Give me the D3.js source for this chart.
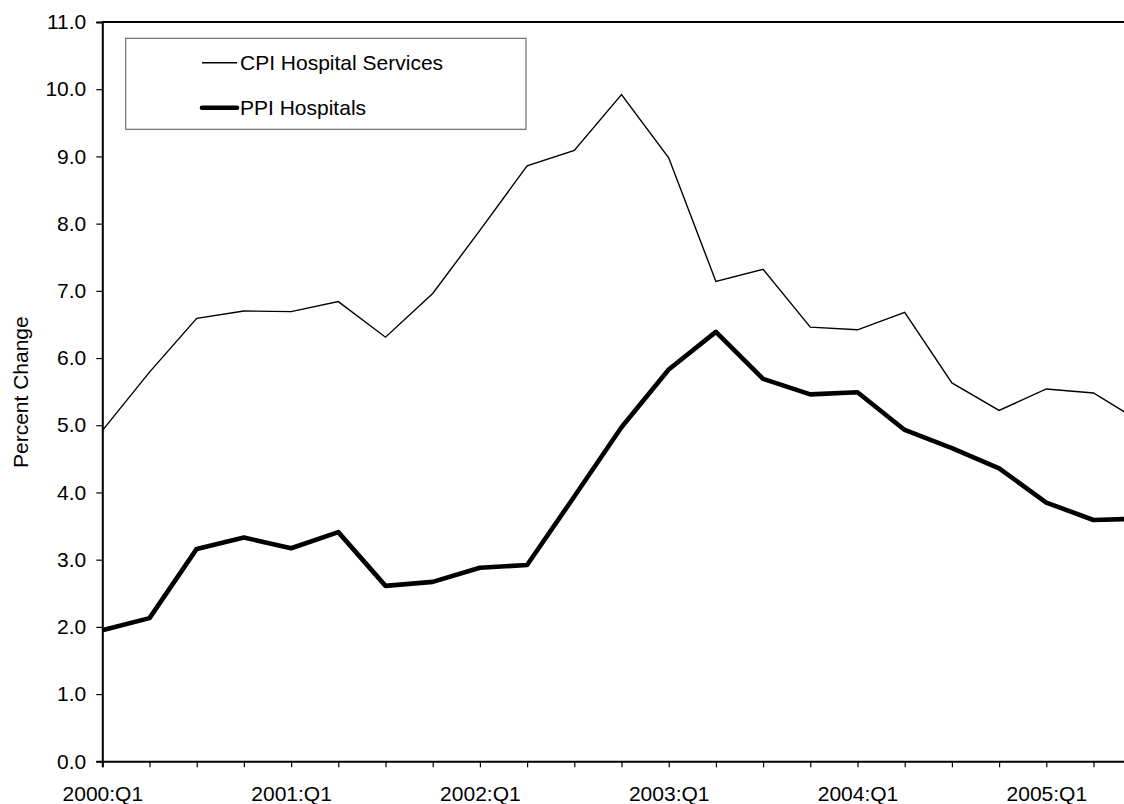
<!DOCTYPE html>
<html>
<head>
<meta charset="utf-8">
<script src="https://cdn.jsdelivr.net/npm/d3@7"></script>
<style>
  html, body { margin: 0; padding: 0; background: #fff; }
  svg { display: block; }
  text { font-family: "Liberation Sans", Arial, sans-serif; fill: #000; }
</style>
</head>
<body>
<svg id="chart" width="1124" height="804"></svg>
<script>
const quarters = ["2000:Q1","2000:Q2","2000:Q3","2000:Q4",
                  "2001:Q1","2001:Q2","2001:Q3","2001:Q4",
                  "2002:Q1","2002:Q2","2002:Q3","2002:Q4",
                  "2003:Q1","2003:Q2","2003:Q3","2003:Q4",
                  "2004:Q1","2004:Q2","2004:Q3","2004:Q4",
                  "2005:Q1","2005:Q2","2005:Q3"];
const cpiHospitalServices = [4.92, 5.79, 6.59, 6.70, 6.69, 6.84, 6.31, 6.96, 7.90, 8.86, 9.09, 9.92,
                             8.98, 7.14, 7.32, 6.46, 6.42, 6.68, 5.63, 5.22, 5.54, 5.48, 5.05];
const ppiHospitals = [1.95, 2.13, 3.16, 3.33, 3.17, 3.41, 2.61, 2.67, 2.88, 2.92, 3.94, 4.97,
                      5.83, 6.39, 5.69, 5.46, 5.49, 4.93, 4.66, 4.36, 3.85, 3.59, 3.61];
const yTicks = [0,1,2,3,4,5,6,7,8,9,10,11];
const labeledQuarters = ["2000:Q1","2001:Q1","2002:Q1","2003:Q1","2004:Q1","2005:Q1"];
const seriesNames = ["CPI Hospital Services", "PPI Hospitals"];

(function () {
const svg = d3.select("#chart");
const mLeft = 102.3, mBottom = 761.3, mTop = 22;
const step = 47.2;

const x = d3.scaleLinear().domain([0, quarters.length - 1])
  .range([mLeft, mLeft + step * (quarters.length - 1)]);
const y = d3.scaleLinear().domain([0, 11]).range([mBottom, mTop]);

// top border
svg.append("line").attr("x1", mLeft).attr("x2", 1124).attr("y1", mTop).attr("y2", mTop)
  .attr("stroke", "#000").attr("stroke-width", 2);

// y axis
const yAxis = svg.append("g").attr("transform", `translate(${mLeft},0)`)
  .call(d3.axisLeft(y).tickValues(yTicks).tickFormat(d3.format(".1f")).tickSize(6).tickPadding(10));
yAxis.select(".domain").attr("stroke", "#000").attr("stroke-width", 2);
yAxis.selectAll(".tick line").attr("stroke", "#000").attr("stroke-width", 1.2);
yAxis.selectAll(".tick text").style("font-size", "21px").attr("fill", "#000")
  .attr("font-family", "Liberation Sans, Arial, sans-serif");

// x axis
const xAxis = svg.append("g").attr("transform", `translate(0,${mBottom})`)
  .call(d3.axisBottom(x).tickValues(d3.range(quarters.length)).tickSize(6)
    .tickFormat(i => labeledQuarters.includes(quarters[i]) ? quarters[i] : ""));
xAxis.select(".domain").attr("stroke", "#000").attr("stroke-width", 2);
xAxis.selectAll(".tick line").attr("stroke", "#000").attr("stroke-width", 1.2);
xAxis.selectAll(".tick text").style("font-size", "21px").attr("fill", "#000")
  .attr("font-family", "Liberation Sans, Arial, sans-serif")
  .attr("dy", 0).attr("y", 39.5);

// y title
svg.append("text").attr("transform", `translate(28,${(mTop + mBottom) / 2 + 0.5}) rotate(-90)`)
  .attr("text-anchor", "middle").style("font-size", "21px").text("Percent Change");

// lines
const line = d3.line().x((d, i) => x(i)).y(d => y(d));
svg.append("path").datum(cpiHospitalServices).attr("d", line)
  .attr("fill", "none").attr("stroke", "#000").attr("stroke-width", 1.4).attr("stroke-linejoin", "miter");
svg.append("path").datum(ppiHospitals).attr("d", line)
  .attr("fill", "none").attr("stroke", "#000").attr("stroke-width", 4.6).attr("stroke-linejoin", "round");

// legend
const lg = svg.append("g");
lg.append("rect").attr("x", 125.7).attr("y", 38.3).attr("width", 400.3).attr("height", 91)
  .attr("fill", "#fff").attr("stroke", "#6e6e6e").attr("stroke-width", 1.2);
const legendRows = [{name: seriesNames[0], w: 1.4, cy: 62.7}, {name: seriesNames[1], w: 4.6, cy: 107.7}];
legendRows.forEach(r => {
  lg.append("line").attr("x1", 202).attr("x2", 237).attr("y1", r.cy).attr("y2", r.cy)
    .attr("stroke", "#000").attr("stroke-width", r.w).attr("stroke-linecap", r.w > 2 ? "round" : "butt");
  lg.append("text").attr("x", 240).attr("y", r.cy).attr("dy", "0.36em")
    .style("font-size", "21px").text(r.name);
});
})();
</script>
</body>
</html>
